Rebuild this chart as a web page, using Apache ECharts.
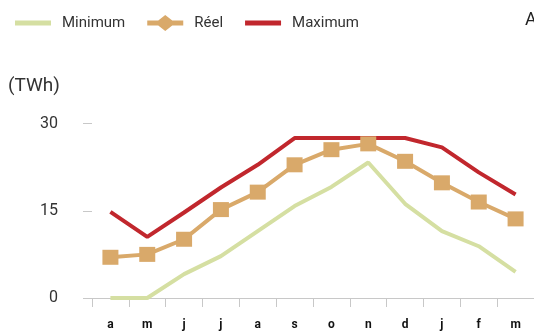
<!DOCTYPE html>
<html>
<head>
<meta charset="utf-8">
<script src="https://cdn.jsdelivr.net/npm/echarts@6/dist/echarts.min.js"></script>
<style>
  html, body { margin: 0; padding: 0; background: #fff; }
  #chart { width: 534px; height: 331px; }
</style>
</head>
<body>
<div id="chart"></div>
<script>
// mois d'avril à mars
const months = ['a', 'm', 'j', 'j', 'a', 's', 'o', 'n', 'd', 'j', 'f', 'm'];
const minimum = [0, 0, 4.1, 7.2, 11.5, 15.8, 19.1, 23.3, 16.2, 11.5, 8.9, 4.5];
const reel = [7, 7.5, 10.1, 15.2, 18.2, 22.9, 25.5, 26.5, 23.5, 19.8, 16.5, 13.6];
const maximum = [14.8, 10.5, 14.7, 19, 22.9, 27.5, 27.5, 27.5, 27.5, 25.9, 21.6, 17.8];
const yTicks = [0, 15, 30];

const font = 'Roboto';
// icônes de légende : barre épaisse (points fantômes pour garder la boîte 36x16)
const barIcon = 'path://M0,0L0,0M0,5.5L36,5.5L36,10.5L0,10.5ZM36,16L36,16';
const diamondIcon = 'path://M0,0L0,0M0,5.5L11,5.5L18,0L25,5.5L36,5.5L36,10.5L25,10.5L18,16L11,10.5L0,10.5ZM36,16L36,16';

const chart = echarts.init(document.getElementById('chart'));

chart.setOption({
  animation: false,
  textStyle: { fontFamily: font },
  legend: {
    top: 10,
    left: 10,
    itemWidth: 36,
    itemHeight: 16,
    itemGap: 22,
    textStyle: { fontSize: 15, color: '#333', fontFamily: font, padding: [0, 0, 0, 6] },
    data: [
      { name: 'Minimum', icon: barIcon },
      { name: 'Réel', icon: diamondIcon },
      { name: 'Maximum', icon: barIcon }
    ]
  },
  graphic: [
    { type: 'text', left: 8, top: 77, style: { text: '(TWh)', fontSize: 19, fill: '#333', fontFamily: font } },
    { type: 'text', left: 525, top: 11, style: { text: 'A', fontSize: 18, fill: '#222', fontFamily: font } }
  ],
  grid: { left: 92, right: -7, top: 123.5, bottom: 32 },
  xAxis: {
    type: 'category',
    data: months,
    boundaryGap: true,
    axisLine: { lineStyle: { color: '#c8c8c8', width: 1 } },
    axisTick: { show: true, length: 9, inside: false, lineStyle: { color: '#c8c8c8' } },
    axisLabel: { interval: 0, color: '#111', fontWeight: 'bold', fontSize: 12, margin: 21, fontFamily: font }
  },
  yAxis: {
    type: 'value',
    min: yTicks[0],
    max: yTicks[yTicks.length - 1],
    interval: 15,
    axisLine: { show: false },
    splitLine: { show: false },
    axisTick: { show: true, length: 9, lineStyle: { color: '#c8c8c8' } },
    axisLabel: { color: '#333', fontSize: 16, margin: 34, fontFamily: font }
  },
  series: [
    {
      name: 'Minimum',
      type: 'line',
      data: minimum,
      z: 2,
      symbol: 'none',
      lineStyle: { color: '#d5dfa2', width: 4 },
      itemStyle: { color: '#d5dfa2' }
    },
    {
      name: 'Réel',
      type: 'line',
      data: reel,
      z: 4,
      symbol: 'rect',
      symbolSize: [16, 15],
      lineStyle: { color: '#d9a96a', width: 4 },
      itemStyle: { color: '#d9a96a' }
    },
    {
      name: 'Maximum',
      type: 'line',
      data: maximum,
      z: 3,
      symbol: 'none',
      lineStyle: { color: '#c1272d', width: 4 },
      itemStyle: { color: '#c1272d' }
    }
  ]
});
</script>
</body>
</html>
